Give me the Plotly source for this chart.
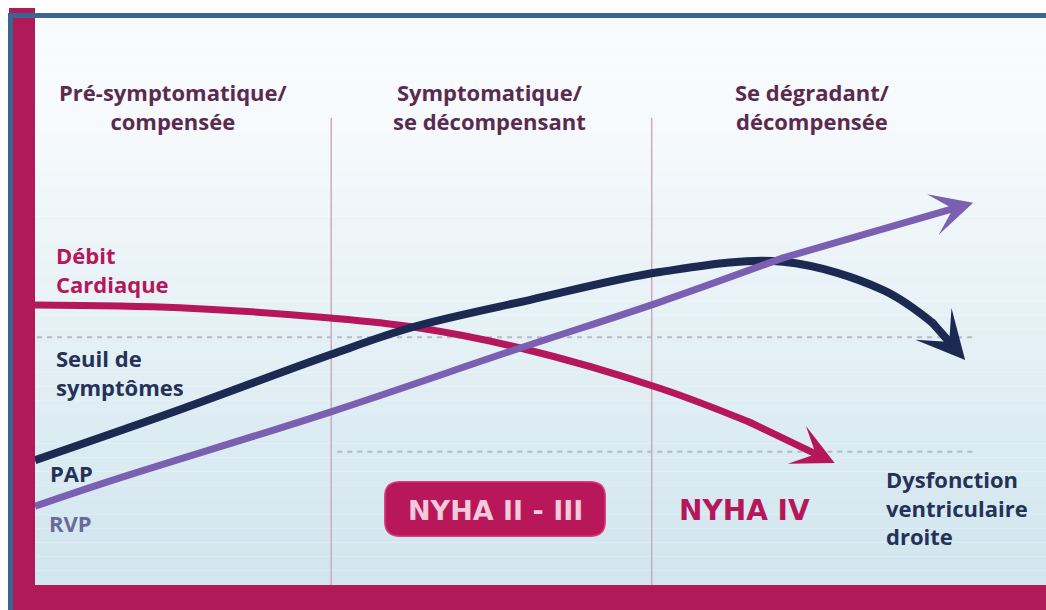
import plotly.graph_objects as go

# Courbes schématiques : x = progression de la maladie (0-100), y = niveau (0-100)
DEBIT_X = [0, 14.3, 29.2, 37.4, 48.0, 61.8, 70.7, 79.1]
DEBIT_Y = [49.4, 48.9, 47.1, 45.5, 41.8, 34.7, 28.7, 21.5]

PAP_X = [0, 14.3, 29.2, 37.4, 49.0, 61.8, 74.0, 83.9, 88.8, 92.0]
PAP_Y = [22.0, 30.9, 40.6, 45.5, 50.3, 55.2, 57.0, 52.0, 46.2, 39.7]

RVP_X = [0, 7.7, 29.2, 48.0, 61.8, 74.0, 92.8]
RVP_Y = [13.9, 18.5, 30.5, 41.8, 49.9, 57.7, 67.4]

PHASE_BOUNDS = [29.3, 61.0]
PHASE_CENTERS = [13.6, 45.0, 76.9]
PHASE_LABELS = ["Pré-symptomatique/<br>compensée",
                "Symptomatique/<br>se décompensant",
                "Se dégradant/<br>décompensée"]

SEUIL_Y = 43.7        # seuil de symptômes
SEUIL2_Y = 23.5       # seuil bas (NYHA)

MAGENTA = "#b5175a"
NAVY = "#1c2a52"
NAVY_TXT = "#253258"
PURPLE = "#7b5fb0"
PLUM = "#5b2a4f"
FONT = "Open Sans"
FONT_WIDE = "DejaVu Sans"

W, H = 1046, 610
L, R, T, B = 35, 0, 18, 25


def px_to_paper(px, py):
    return (px - L) / (W - L - R), (H - B - py) / (H - T - B)


fig = go.Figure()

# ── Courbes ───────────────────────────────────────────────────
for xs, ys, clr, w in [(DEBIT_X, DEBIT_Y, MAGENTA, 7),
                       (PAP_X, PAP_Y, NAVY, 8),
                       (RVP_X, RVP_Y, PURPLE, 7)]:
    n = len(xs) - 1
    fig.add_trace(go.Scatter(x=xs[:-1], y=ys[:-1], mode="lines+markers",
                             line=dict(color=clr, width=w, shape="spline"),
                             marker=dict(color=clr, size=[0] * (n - 1) + [w], line_width=0),
                             hoverinfo="skip", showlegend=False))
    # pointe de flèche : annotation sans texte (boîte minimale pour éviter un jour)
    fig.add_annotation(x=xs[-1], y=ys[-1], ax=xs[-2], ay=ys[-2],
                       xref="x", yref="y", axref="x", ayref="y",
                       text="", font=dict(size=1), borderpad=0, borderwidth=0,
                       showarrow=True, arrowhead=3,
                       arrowsize=1.0, arrowwidth=w, arrowcolor=clr, standoff=0)

# ── Fond dégradé ──────────────────────────────────────────────
top, bot = (248, 251, 253), (209, 230, 239)
nb = 40
shapes = []
for i in range(nb):
    t = i / (nb - 1)
    t2 = max(0.0, (t - 0.15) / 0.85)
    c = tuple(int(top[k] + (bot[k] - top[k]) * t2) for k in range(3))
    shapes.append(dict(type="rect", xref="paper", yref="paper",
                       x0=0, x1=1, y0=1 - (i + 1) / nb, y1=1 - i / nb,
                       fillcolor="rgb(%d,%d,%d)" % c, line_width=0, layer="below"))

# séparateurs de phases
for xb in PHASE_BOUNDS:
    shapes.append(dict(type="line", xref="x", yref="y", x0=xb, x1=xb, y0=0, y1=82.4,
                       line=dict(color="#cfaabd", width=1.5), layer="below"))

# seuils en pointillés
for x0, yv in [(0.2, SEUIL_Y), (29.9, SEUIL2_Y)]:
    shapes.append(dict(type="line", xref="x", yref="y", x0=x0, x1=93, y0=yv, y1=yv,
                       line=dict(color="#b4bcc6", width=2, dash="5px,5px"), layer="below"))

# boîte arrondie NYHA II - III
bx0, bx1, by0, by1, rx, ry = 34.6, 56.4, 8.6, 18.2, 1.5, 2.6
path = (f"M {bx0+rx},{by0} L {bx1-rx},{by0} Q {bx1},{by0} {bx1},{by0+ry} "
        f"L {bx1},{by1-ry} Q {bx1},{by1} {bx1-rx},{by1} L {bx0+rx},{by1} "
        f"Q {bx0},{by1} {bx0},{by1-ry} L {bx0},{by0+ry} Q {bx0},{by0} {bx0+rx},{by0} Z")
shapes.append(dict(type="path", xref="x", yref="y", path=path,
                   fillcolor="#b8175a", line=dict(color="#d8407a", width=1.5)))


# cadre (coordonnées en pixels de la page)
def frame_rect(x0, y0, x1, y1, clr):
    a0, b0 = px_to_paper(x0, y1)
    a1, b1 = px_to_paper(x1, y0)
    return dict(type="rect", xref="paper", yref="paper", x0=a0, x1=a1, y0=b0, y1=b1,
                fillcolor=clr, line_width=0, layer="above")


shapes.append(frame_rect(9, 8, 35, 610, "#b01a58"))
shapes.append(frame_rect(35, 585, 1046, 610, "#b01a58"))
shapes.append(frame_rect(8, 13, 13, 610, "#3a6590"))
shapes.append(frame_rect(8, 13, 1046, 18, "#3a6590"))


# ── Textes ────────────────────────────────────────────────────
def label(x, y, txt, clr, size=22, anchor="left", family=FONT, weight=700):
    fig.add_annotation(x=x, y=y, xref="x", yref="y", text=txt, showarrow=False,
                       xanchor=anchor, align=anchor, borderpad=0,
                       font=dict(family=family, size=size, color=clr, weight=weight))


for xc, lab in zip(PHASE_CENTERS, PHASE_LABELS):
    label(xc, 84.4, lab, PLUM, 22, "center")

label(2.0, 55.6, "Débit<br>Cardiaque", MAGENTA, 22)
label(2.0, 37.5, "Seuil de<br>symptômes", NAVY_TXT, 22)
label(1.4, 19.8, "PAP", NAVY_TXT, 22)
label(1.3, 10.9, "RVP", "#6a6a9c", 22)
label(45.5, 13.2, "NYHA II - III", "#f2cadb", 27, "center", FONT_WIDE)
label(70.2, 13.1, "NYHA IV", MAGENTA, 28, "center", FONT_WIDE)
label(84.1, 13.6, "Dysfonction<br>ventriculaire<br>droite", NAVY_TXT, 22)

fig.update_layout(
    width=W, height=H,
    margin=dict(l=L, r=R, t=T, b=B),
    paper_bgcolor="white", plot_bgcolor="rgba(0,0,0,0)",
    xaxis=dict(range=[0, 100], visible=False, fixedrange=True),
    yaxis=dict(range=[0, 100], visible=False, fixedrange=True),
    shapes=shapes,
    showlegend=False,
)

fig.write_html("out.html", config={"displayModeBar": False},
               post_script="document.body.style.margin='0';document.body.style.overflow='hidden';")
